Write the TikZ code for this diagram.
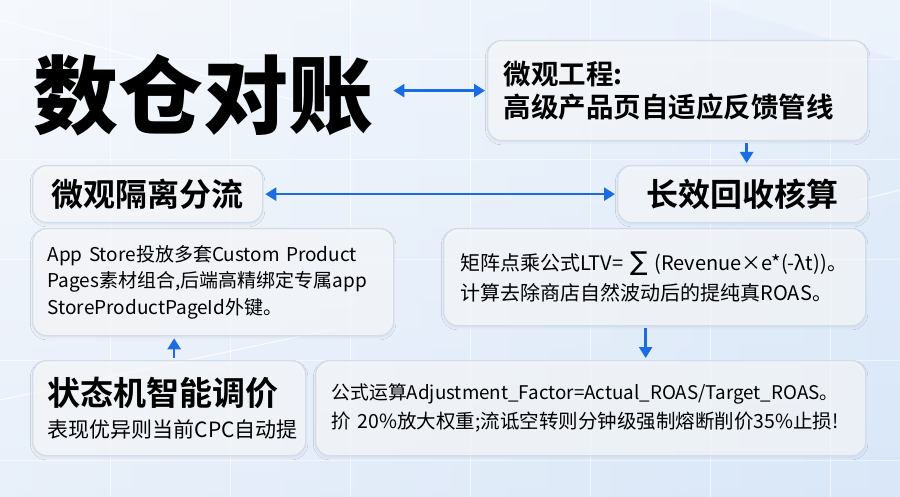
\documentclass[tikz,border=0pt]{standalone}
\usepackage{fontspec}
\setmainfont{Noto Sans CJK SC}[BoldFont={Noto Sans CJK SC Bold}]
\newfontfamily\heavyfont{Noto Sans CJK SC Black}
\newfontfamily\symfont{DejaVu Sans}
\usetikzlibrary{arrows.meta,shadows.blur,calc}
\definecolor{bgA}{HTML}{F1F5FB}
\definecolor{bgB}{HTML}{D9E7F8}
\definecolor{bordc}{HTML}{D3DDEA}
\definecolor{arrowc}{HTML}{1B6BE3}
\definecolor{gridc}{HTML}{FFFFFF}
\tikzset{
  glass/.style={rounded corners=14pt, draw=bordc, line width=1.3pt, fill=white, fill opacity=0.6, text opacity=1,
    blur shadow={shadow xshift=0pt, shadow yshift=-2pt, shadow blur steps=6, shadow opacity=10},
    anchor=north west, inner xsep=16pt, inner ysep=0pt, align=left},
  ctr/.style={align=center},
  arr/.style={draw=arrowc, line width=2.6pt, -{Triangle[length=11pt,width=13pt]}},
  darr/.style={draw=arrowc, line width=2.6pt, {Triangle[length=11pt,width=13pt]}-{Triangle[length=11pt,width=13pt]}},
}
\begin{document}
\begin{tikzpicture}[x=1pt,y=-1pt]
\useasboundingbox (0,0) rectangle (900,497);
\shade[left color=bgA, right color=bgB] (0,0) rectangle (900,497);
\shade[top color=white, bottom color=bgB, opacity=0.35] (0,0) rectangle (900,497);
% faint grid
\foreach \gx in {110,230,350,470,590,710,830}{
  \draw[gridc, line width=1pt, opacity=0.6] (\gx,0) -- (\gx,497);}
\foreach \gy in {60,160,260,360,460}{
  \draw[gridc, line width=1pt, opacity=0.5] (0,\gy) -- (900,\gy);}
\draw[gridc, line width=1.2pt, opacity=0.7] (0,20) -- (330,110);
\draw[gridc, line width=1.2pt, opacity=0.7] (0,400) -- (330,330);
\draw[gridc, line width=1.2pt, opacity=0.7] (860,200) -- (900,190);
\fill[white, opacity=0.25] (700,0) -- (900,0) -- (900,60) -- cycle;

% title
\node[anchor=west, inner sep=0pt, font=\heavyfont\fontsize{85}{85}\selectfont] (title) at (33,95) {数仓对账};

% boxes
\node[glass, minimum width=380pt, minimum height=100pt, text width=348pt,
  font=\bfseries\fontsize{27.5}{33}\selectfont] (b2) at (487,40) {微观工程:\\高级产品页自适应反馈管线};
\node[glass, ctr, minimum width=250pt, minimum height=57pt, text width=218pt,
  font=\bfseries\fontsize{32}{36}\selectfont] (b5) at (617,165) {长效回收核算};
\node[glass, ctr, minimum width=230pt, minimum height=57pt, text width=198pt,
  font=\bfseries\fontsize{32}{36}\selectfont] (b6) at (32,165) {微观隔离分流};
\node[glass, minimum width=361pt, minimum height=107pt, text width=331pt, inner xsep=15pt,
  font=\fontsize{19}{26.5}\selectfont] (b8) at (32,228) {App Store投放多套Custom Product\\Pages素材组合,后端高精绑定专属app\\StoreProductPageId外键。};
\node[glass, minimum width=422pt, minimum height=97pt, text width=388pt, inner xsep=17pt,
  font=\fontsize{20}{30}\selectfont] (b9) at (443,228) {矩阵点乘公式LTV= {\symfont\fontsize{26}{26}\selectfont ∑} (Revenue×e*(-λt))。\\计算去除商店自然波动后的提纯真ROAS。};
\node[glass, minimum width=273pt, minimum height=95pt, text width=243pt, inner xsep=15pt,
  font=\fontsize{21}{32}\selectfont] (b11) at (32,360) {{\bfseries\fontsize{33}{32}\selectfont 状态机智能调价}\\表现优异则当前CPC自动提};
\node[glass, minimum width=550pt, minimum height=95pt, text width=518pt,
  font=\fontsize{19.5}{29}\selectfont] (b13) at (315,360) {{\fontsize{18.8}{29}\selectfont 公式运算Adjustment\_Factor=Actual\_ROAS/Target\_ROAS。}\\扴 20\%放大权重;流诋空转则分钟级强制熔断削价35\%止损!};

% connectors
\draw[darr, shorten <=20pt, shorten >=2pt] (title.east |- b2.west) -- (b2.west);
\draw[darr, shorten <=2pt, shorten >=2pt] (b6.east) -- (b5.west);
\draw[arr, shorten <=2pt, shorten >=2pt] ($(b5.north |- b2.south)+(4,0)$) -- ($(b5.north)+(4,0)$);
\draw[arr, shorten <=2pt, shorten >=2pt] ($(b9.south)+(-9,0)$) -- ($(b9.south |- b13.north)+(-9,0)$);
\draw[arr, shorten <=2pt, shorten >=2pt] ($(b11.north)+(5,0)$) -- ($(b11.north |- b8.south)+(5,0)$);
\end{tikzpicture}
\end{document}
